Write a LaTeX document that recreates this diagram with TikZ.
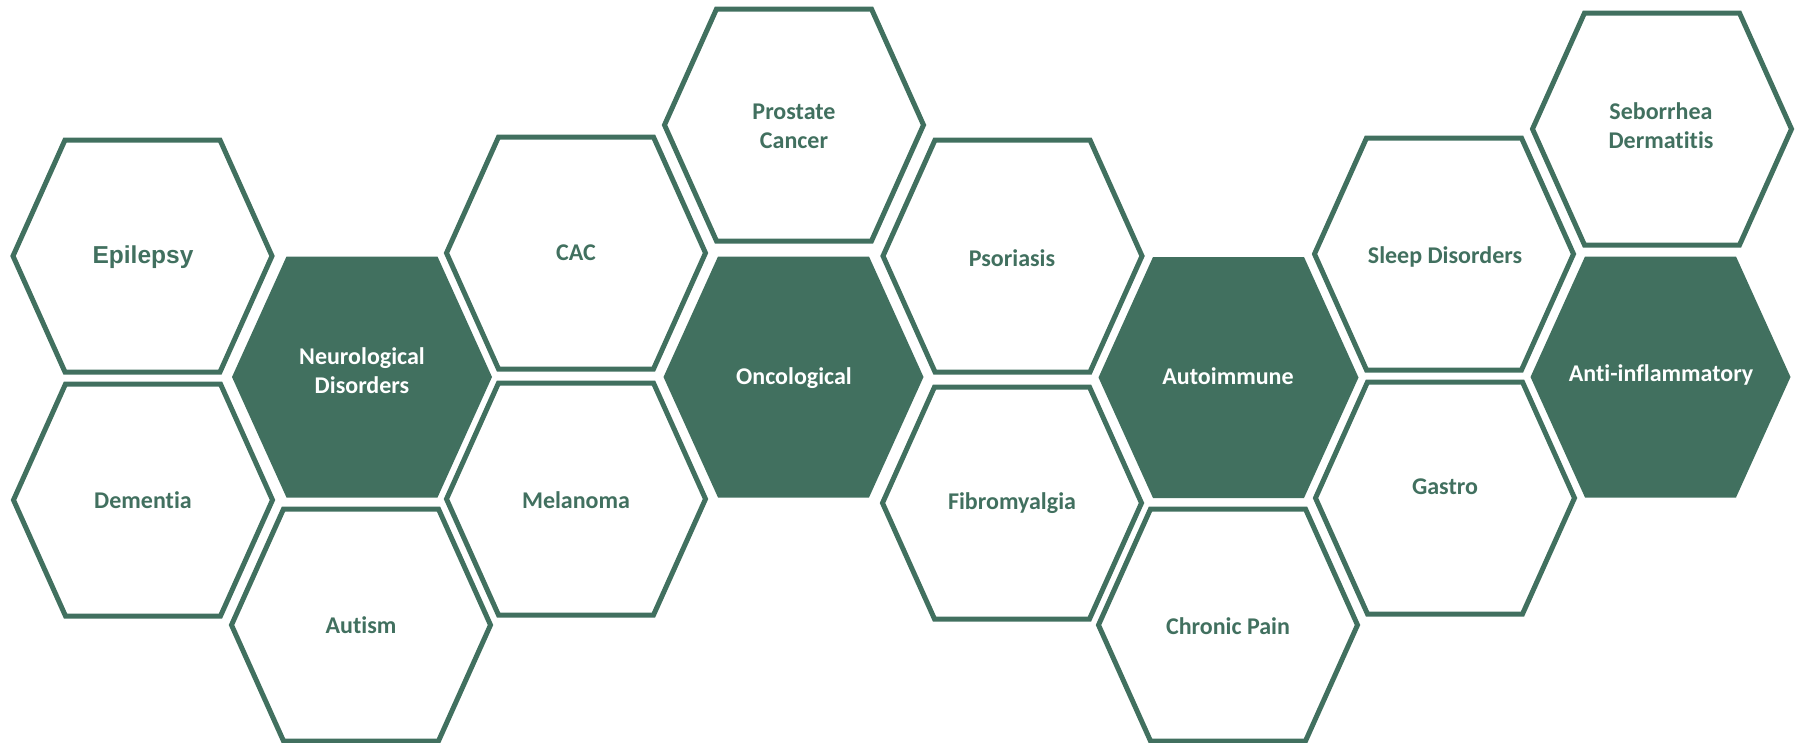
\documentclass[tikz,border=0pt]{standalone}
\usepackage{fontspec}
\setmainfont[Ligatures=NoCommon]{Carlito}
\newfontfamily\arialfont{Liberation Sans}
\definecolor{hexgreen}{HTML}{41705F}
\begin{document}
\begin{tikzpicture}
[
 x=1pt, y=-1pt,
 align=center,
 font=\bfseries\fontsize{24}{29}\selectfont,
 hexline/.style={draw=hexgreen,line width=5pt,line join=miter},
 hexfill/.style={fill=hexgreen},
 hexring/.pic={\path[pic actions] (-129.5,0) -- (-77.5,-116) -- (77.5,-116) -- (129.5,0) -- (77.5,116) -- (-77.5,116) -- cycle;},
 hexslab/.pic={\path[pic actions] (-130,0) -- (-75.5,-120.5) -- (75.5,-120.5) -- (130,0) -- (75.5,120.5) -- (-75.5,120.5) -- cycle;},
 txt/.style={text=hexgreen},
 txtw/.style={text=white}
]
\useasboundingbox (0,0) rectangle (1798,742);
% honeycomb
\pic[hexline] at (142.5,256) {hexring};
\pic[hexline] at (143,500) {hexring};
\pic[hexfill] at (362,377) {hexslab};
\pic[hexline] at (361,625) {hexring};
\pic[hexline] at (576,253) {hexring};
\pic[hexline] at (576,499) {hexring};
\pic[hexline] at (794,125) {hexring};
\pic[hexfill] at (793.5,377) {hexslab};
\pic[hexline] at (1012.5,256) {hexring};
\pic[hexline] at (1012,503) {hexring};
\pic[hexfill] at (1228.5,377.5) {hexslab};
\pic[hexline] at (1228,625) {hexring};
\pic[hexline] at (1444,254) {hexring};
\pic[hexline] at (1445,498) {hexring};
\pic[hexline] at (1662,129) {hexring};
\pic[hexfill] at (1660.5,377) {hexslab};
% labels
\node (epilepsy) [txt] at (143,257) {\arialfont\fontsize{24.5}{29}\selectfont Epilepsy};
\node (dementia) [txt] at (143,500) {Dementia};
\node (neuro) [txtw] at (362,371) {Neurological\\Disorders};
\node (autism) [txt] at (361,625) {Autism};
\node (cac) [txt] at (576,253) {CAC};
\node (melanoma) [txt] at (576,500) {Melanoma};
\node (prostate) [txt] at (794,126) {Prostate\\Cancer};
\node (onco) [txtw] at (794,378) {Oncological};
\node (psoriasis) [txt] at (1012,258) {Psoriasis};
\node (fibro) [txt] at (1012,503) {Fibromyalgia};
\node (autoimmune) [txtw] at (1228,376) {Autoimmune};
\node (chronic) [txt] at (1228,626) {Chronic Pain};
\node (sleep) [txt] at (1445,257) {Sleep Disorders};
\node (gastro) [txt] at (1445,487) {Gastro};
\node (seborrhea) [txt] at (1661,126) {Seborrhea\\Dermatitis};
\node (antiinfl) [txtw] at (1661,375) {Anti-inflammatory};
\end{tikzpicture}
\end{document}
